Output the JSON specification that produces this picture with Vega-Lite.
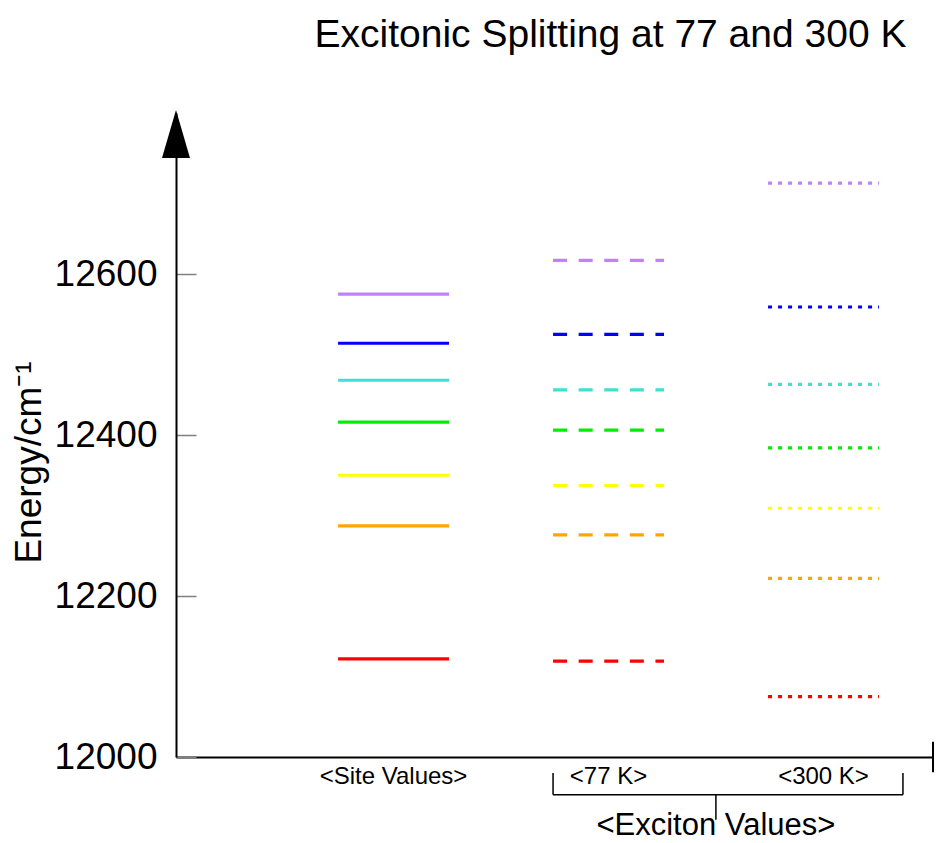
{
  "$schema": "https://vega.github.io/schema/vega-lite/v6.json",
  "width": 757,
  "height": 644,
  "autosize": {"type": "none"},
  "padding": {"left": 176, "top": 113, "right": 5, "bottom": 86},
  "background": "white",
  "config": {"font": "Liberation Sans", "view": {"stroke": null}},
  "title": {
    "text": "Excitonic Splitting at 77 and 300 K",
    "fontSize": 39,
    "fontWeight": "normal",
    "color": "#000000",
    "anchor": "middle",
    "frame": "group",
    "baseline": "alphabetic",
    "dx": 56,
    "offset": 24
  },
  "datasets": {
    "levels": [
      {"column": "Site Values", "state": 1, "energy": 12122},
      {"column": "Site Values", "state": 2, "energy": 12287},
      {"column": "Site Values", "state": 3, "energy": 12350},
      {"column": "Site Values", "state": 4, "energy": 12416},
      {"column": "Site Values", "state": 5, "energy": 12468},
      {"column": "Site Values", "state": 6, "energy": 12514},
      {"column": "Site Values", "state": 7, "energy": 12575},
      {"column": "77 K", "state": 1, "energy": 12119},
      {"column": "77 K", "state": 2, "energy": 12276},
      {"column": "77 K", "state": 3, "energy": 12337},
      {"column": "77 K", "state": 4, "energy": 12406},
      {"column": "77 K", "state": 5, "energy": 12456},
      {"column": "77 K", "state": 6, "energy": 12525},
      {"column": "77 K", "state": 7, "energy": 12617},
      {"column": "300 K", "state": 1, "energy": 12075},
      {"column": "300 K", "state": 2, "energy": 12222},
      {"column": "300 K", "state": 3, "energy": 12309},
      {"column": "300 K", "state": 4, "energy": 12384},
      {"column": "300 K", "state": 5, "energy": 12463},
      {"column": "300 K", "state": 6, "energy": 12559},
      {"column": "300 K", "state": 7, "energy": 12713}
    ],
    "exciton": [{"left": "77 K", "right": "300 K", "label": "<Exciton Values>"}]
  },
  "layer": [
    {
      "data": {"name": "levels"},
      "mark": {"type": "rule", "strokeWidth": 3.2, "strokeCap": "butt"},
      "encoding": {
        "x": {
          "field": "column",
          "type": "nominal",
          "bandPosition": 0,
          "title": null,
          "scale": {
            "domain": ["Site Values", "77 K", "300 K"],
            "paddingInner": 0.484,
            "paddingOuter": 0.5025,
            "align": 0.75
          },
          "axis": {
            "orient": "bottom",
            "title": null,
            "ticks": false,
            "grid": false,
            "labelAngle": 0,
            "labelExpr": "'<' + datum.label + '>'",
            "labelFontSize": 24,
            "labelColor": "#000000",
            "labelPadding": 7,
            "domainColor": "#000000",
            "domainWidth": 2
          }
        },
        "x2": {"field": "column", "bandPosition": 1},
        "y": {
          "field": "energy",
          "type": "quantitative",
          "scale": {"domain": [12000, 12800], "nice": false, "zero": false},
          "axis": {
            "title": "Energy/cm⁻¹",
            "titleFontSize": 37,
            "titleFontWeight": "normal",
            "titleColor": "#000000",
            "titleAngle": -90,
            "titleAlign": "center",
            "titleBaseline": "alphabetic",
            "titleX": -136,
            "titleY": 349,
            "values": [12000, 12200, 12400, 12600],
            "format": "d",
            "grid": false,
            "labelFontSize": 37,
            "labelColor": "#000000",
            "labelPadding": 39,
            "tickSize": -20,
            "tickColor": "#808080",
            "tickWidth": 1.5,
            "domainColor": "#000000",
            "domainWidth": 2
          }
        },
        "color": {
          "field": "state",
          "type": "ordinal",
          "scale": {
            "domain": [1, 2, 3, 4, 5, 6, 7],
            "range": ["#ff0000", "#ffa500", "#ffff00", "#00ee00", "#40e0d0", "#0000ff", "#c080ff"]
          },
          "legend": null
        },
        "strokeDash": {
          "field": "column",
          "type": "nominal",
          "scale": {
            "domain": ["Site Values", "77 K", "300 K"],
            "range": [[1, 0], [14, 11.6], [4, 6]]
          },
          "legend": null
        }
      }
    },
    {
      "data": {"name": "exciton"},
      "mark": {"type": "rule", "color": "#000000", "strokeWidth": 1.5},
      "encoding": {
        "x": {"field": "left", "type": "nominal", "bandPosition": 0, "title": null, "scale": {"domain": ["Site Values", "77 K", "300 K"]}},
        "x2": {"field": "right", "bandPosition": 1.216},
        "y": {"datum": 11953, "type": "quantitative"}
      }
    },
    {
      "data": {"name": "exciton"},
      "mark": {"type": "rule", "color": "#000000", "strokeWidth": 1.5},
      "encoding": {
        "x": {"field": "left", "type": "nominal", "bandPosition": 0, "title": null, "scale": {"domain": ["Site Values", "77 K", "300 K"]}},
        "y": {"datum": 11953, "type": "quantitative"},
        "y2": {"datum": 11980}
      }
    },
    {
      "data": {"name": "exciton"},
      "mark": {"type": "rule", "color": "#000000", "strokeWidth": 1.5},
      "encoding": {
        "x": {"field": "right", "type": "nominal", "bandPosition": 1.216, "title": null, "scale": {"domain": ["Site Values", "77 K", "300 K"]}},
        "y": {"datum": 11953, "type": "quantitative"},
        "y2": {"datum": 11980}
      }
    },
    {
      "data": {"name": "exciton"},
      "mark": {"type": "rule", "color": "#000000", "strokeWidth": 1.5},
      "encoding": {
        "x": {"field": "left", "type": "nominal", "bandPosition": 1.468, "title": null, "scale": {"domain": ["Site Values", "77 K", "300 K"]}},
        "y": {"datum": 11922, "type": "quantitative"},
        "y2": {"datum": 11953}
      }
    },
    {
      "data": {"name": "exciton"},
      "mark": {"type": "text", "fontSize": 31, "color": "#000000", "align": "center", "baseline": "alphabetic"},
      "encoding": {
        "x": {"field": "left", "type": "nominal", "bandPosition": 1.468, "title": null, "scale": {"domain": ["Site Values", "77 K", "300 K"]}},
        "y": {"datum": 11903, "type": "quantitative"},
        "text": {"field": "label"}
      }
    },
    {
      "data": {"values": [{}]},
      "mark": {"type": "rule", "color": "#000000", "strokeWidth": 2},
      "encoding": {
        "x": {"value": "width"},
        "y": {"datum": 11981, "type": "quantitative"},
        "y2": {"datum": 12019}
      }
    },
    {
      "data": {"values": [{}]},
      "mark": {
        "type": "point",
        "shape": "M0,-1L0.583,1L-0.583,1Z",
        "filled": true,
        "color": "#000000",
        "opacity": 1,
        "size": 2304
      },
      "encoding": {
        "x": {"value": 0},
        "y": {"datum": 12774, "type": "quantitative"}
      }
    }
  ]
}
